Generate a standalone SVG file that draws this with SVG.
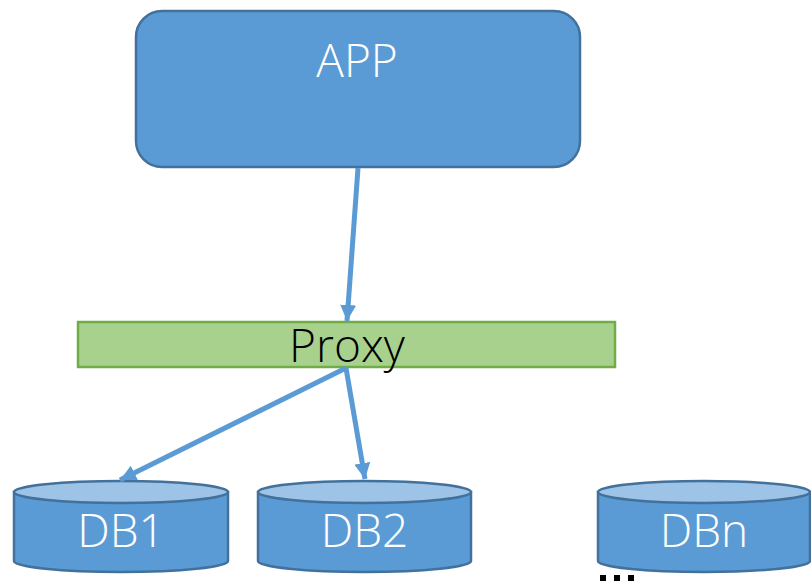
<svg xmlns="http://www.w3.org/2000/svg" width="811" height="583" viewBox="0 0 811 583">
  <defs>
    <marker id="arrow" viewBox="0 0 10 10" refX="10" refY="5" markerWidth="3.2" markerHeight="3.2" orient="auto" markerUnits="strokeWidth">
      <path d="M0,0 L10,5 L0,10 z" fill="#5B9BD5"/>
    </marker>
    <style>
      .label { font-family: "Open Sans", "Noto Sans", "Liberation Sans", sans-serif; font-weight: 300; font-size: 46px; text-anchor: middle; }
      .white { fill: #ffffff; }
      .dark { fill: #000000; }
      .body { fill: #5B9BD5; stroke: #41719C; stroke-width: 2.5; }
      .lid { fill: #9DC3E6; stroke: #41719C; stroke-width: 2.5; }
      .link { stroke: #5B9BD5; stroke-width: 5; fill: none; marker-end: url(#arrow); }
    </style>
  </defs>

  <g id="app">
    <rect x="136" y="11" width="444" height="156" rx="26" ry="26" class="body"/>
    <text x="357" y="77" class="label white">APP</text>
  </g>

  <g id="proxy">
    <rect x="78" y="322" width="537" height="45" fill="#A9D18E" stroke="#70AD47" stroke-width="2.5"/>
    <text x="347" y="362" class="label dark">Proxy</text>
  </g>

  <g id="db1">
    <path d="M14,492 L14,561 A107,11 0 0 0 228,561 L228,492 Z" class="body"/>
    <ellipse cx="121" cy="492" rx="107" ry="11" class="lid"/>
    <text x="121" y="547" class="label white">DB1</text>
  </g>

  <g id="db2">
    <path d="M258,492 L258,561 A106.5,11 0 0 0 471,561 L471,492 Z" class="body"/>
    <ellipse cx="364.5" cy="492" rx="106.5" ry="11" class="lid"/>
    <text x="364.5" y="547" class="label white">DB2</text>
  </g>

  <g id="dbn">
    <path d="M598,492 L598,561 A106,11 0 0 0 810,561 L810,492 Z" class="body"/>
    <ellipse cx="704" cy="492" rx="106" ry="11" class="lid"/>
    <text x="704" y="547" class="label white">DBn</text>
  </g>

  <g id="more">
    <rect x="600" y="575" width="6" height="6" fill="#000"/>
    <rect x="614" y="575" width="6" height="6" fill="#000"/>
    <rect x="628" y="575" width="6" height="6" fill="#000"/>
  </g>

  <g id="connectors">
    <line x1="358" y1="168" x2="347" y2="321" class="link"/>
    <line x1="346" y1="368" x2="120" y2="480" class="link"/>
    <line x1="346" y1="368" x2="365" y2="479" class="link"/>
  </g>
</svg>
